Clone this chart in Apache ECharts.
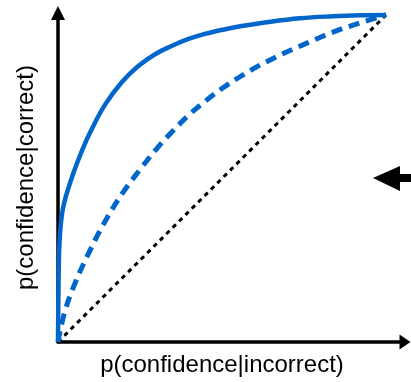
<!DOCTYPE html>
<html>
<head>
<meta charset="utf-8">
<script src="https://cdn.jsdelivr.net/npm/echarts@6/dist/echarts.min.js"></script>
<style>
  html, body { margin: 0; padding: 0; background: #fff; }
  #chart { width: 411px; height: 382px; }
</style>
</head>
<body>
<div id="chart"></div>
<script>
// ROC-style curves: p(confidence|incorrect) on x, p(confidence|correct) on y
const strongX = [0, 0.001, 0.003, 0.006, 0.012, 0.020, 0.030, 0.050, 0.075, 0.100, 0.143, 0.195, 0.244, 0.296, 0.348, 0.396, 0.448, 0.503, 0.560, 0.637, 0.738, 0.838, 0.921, 1];
const strongY = [0, 0.12, 0.26, 0.33, 0.39, 0.43, 0.465, 0.525, 0.59, 0.645, 0.725, 0.795, 0.843, 0.880, 0.906, 0.926, 0.942, 0.955, 0.966, 0.978, 0.990, 0.996, 0.999, 1];

const weakX = [0, 0.02, 0.05, 0.10, 0.15, 0.20, 0.25, 0.30, 0.35, 0.40, 0.45, 0.50, 0.55, 0.60, 0.65, 0.70, 0.75, 0.80, 0.85, 0.90, 0.95, 1];
const weakY = [0, 0.09, 0.175, 0.285, 0.38, 0.46, 0.527, 0.59, 0.645, 0.695, 0.737, 0.775, 0.808, 0.838, 0.864, 0.888, 0.91, 0.932, 0.952, 0.969, 0.985, 1];

const chanceX = [0, 1];
const chanceY = [0, 1];

const xTitle = 'p(confidence|incorrect)';
const yTitle = 'p(confidence|correct)';

const pairs = (xs, ys) => xs.map((x, i) => [x, ys[i]]);

const BLUE = '#0066CC';
const FONT = '"Liberation Sans", Arial, sans-serif';

const chart = echarts.init(document.getElementById('chart'), null, { renderer: 'canvas' });
chart.setOption({
  animation: false,
  backgroundColor: '#ffffff',
  grid: { left: 58, right: 6, top: 13, bottom: 37 },
  xAxis: {
    type: 'value',
    min: 0,
    max: 1.058,
    name: xTitle,
    nameLocation: 'middle',
    nameGap: 11,
    nameTextStyle: { fontSize: 24, color: '#000', fontFamily: FONT, padding: [0, 19, 0, 0] },
    axisLine: {
      show: true,
      lineStyle: { color: '#000', width: 3.5 },
      symbol: ['none', 'triangle'],
      symbolSize: [15, 11]
    },
    axisTick: { show: false },
    axisLabel: { show: false },
    splitLine: { show: false }
  },
  yAxis: {
    type: 'value',
    min: 0,
    max: 1.006,
    name: yTitle,
    nameLocation: 'middle',
    nameGap: 20,
    nameRotate: 90,
    nameTextStyle: { fontSize: 24, color: '#000', fontFamily: FONT },
    axisLine: {
      show: true,
      lineStyle: { color: '#000', width: 3.5 },
      symbol: ['none', 'triangle'],
      symbolSize: [14, 14]
    },
    axisTick: { show: false },
    axisLabel: { show: false },
    splitLine: { show: false }
  },
  series: [
    {
      type: 'line',
      data: pairs(chanceX, chanceY),
      symbol: 'none',
      lineStyle: { color: '#000', width: 3, type: [4.5, 4.5] },
      z: 2
    },
    {
      type: 'line',
      data: pairs(weakX, weakY),
      symbol: 'none',
      smooth: 0.4,
      lineStyle: { color: BLUE, width: 5, type: [11, 7] },
      z: 3
    },
    {
      type: 'line',
      data: pairs(strongX, strongY),
      symbol: 'none',
      smooth: 0.4,
      lineStyle: { color: BLUE, width: 4.5 },
      z: 4
    }
  ],
  graphic: [
    {
      type: 'polygon',
      shape: { points: [[373, 178], [400, 166], [400, 191]] },
      style: { fill: '#000' }
    },
    {
      type: 'rect',
      shape: { x: 398, y: 174, width: 13, height: 8 },
      style: { fill: '#000' }
    }
  ]
});
</script>
</body>
</html>
